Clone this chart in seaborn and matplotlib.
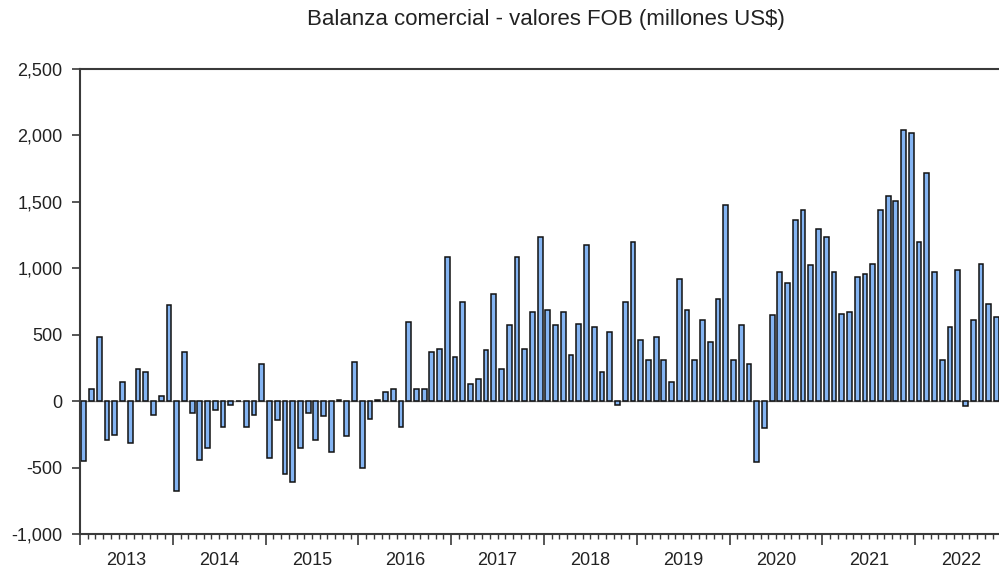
import numpy as np
import pandas as pd
import matplotlib
matplotlib.use("Agg")
import matplotlib.pyplot as plt
import matplotlib.transforms as mtransforms
from matplotlib.ticker import FuncFormatter, FixedLocator
import seaborn as sns

# -------------------------------
# Data: monthly trade balance (millions US$), Jan 2013 - Nov 2022
# -------------------------------
years = ["2013", "2014", "2015", "2016", "2017", "2018", "2019", "2020", "2021", "2022"]

v2013 = [-454, 90, 482, -291, -253, 143, -316, 243, 218, -103, 40, 720]
v2014 = [-680, 369, -90, -442, -354, -65, -191, -28, 0, -198, -108, 281]
v2015 = [-429, -141, -547, -612, -354, -90, -296, -115, -384, 10, -259, 291]
v2016 = [-505, -133, 10, 68, 90, -191, 592, 90, 90, 369, 394, 1084]
v2017 = [331, 745, 128, 166, 382, 808, 241, 570, 1084, 394, 670, 1235]
v2018 = [683, 570, 670, 344, 582, 1172, 557, 218, 520, -28, 745, 1197]
v2019 = [457, 306, 482, 306, 143, 921, 683, 306, 607, 444, 771, 1473]
v2020 = [306, 570, 281, -459, -203, 645, 971, 889, 1360, 1436, 1022, 1298]
v2021 = [1235, 971, 658, 670, 934, 959, 1034, 1436, 1541, 1503, 2043, 2018]
v2022 = [1197, 1717, 971, 311, 557, 984, -40, 607, 1034, 733, 633]

values = v2013 + v2014 + v2015 + v2016 + v2017 + v2018 + v2019 + v2020 + v2021 + v2022
df = pd.DataFrame({"mes": np.arange(len(values)), "valor": values})

# -------------------------------
# Plot
# -------------------------------
sns.set_style("white")
plt.rcParams["font.family"] = ["Liberation Sans", "DejaVu Sans"]

fig = plt.figure(figsize=(9.99, 5.76), dpi=100)
ax = fig.add_axes([80 / 999, 42 / 576, 928 / 999, 465 / 576])

ax.axhline(0, color="#8a8a8a", lw=1, zorder=0)
sns.barplot(data=df, x="mes", y="valor", native_scale=True, width=0.62,
            color="#84b4f2", saturation=1, edgecolor="#111111", linewidth=1.1,
            errorbar=None, ax=ax, zorder=2)

n_months = 12 * len(years)
ax.set_xlim(-0.5, n_months - 0.5)
ax.set_ylim(-1000, 2500)
ax.set_yticks(np.arange(-1000, 2501, 500))
ax.yaxis.set_major_formatter(FuncFormatter(lambda v, p: f"{int(v):,}"))

ax.xaxis.set_major_locator(FixedLocator(np.arange(-0.5, n_months, 12)))
ax.xaxis.set_minor_locator(FixedLocator(np.arange(-0.5, n_months, 1)))
ax.set_xticklabels([])
ax.set_xlabel("")
ax.set_ylabel("")

spine_col = "#3a3a3a"
for s in ax.spines.values():
    s.set_color(spine_col)
    s.set_linewidth(1.5)

ax.tick_params(axis="y", direction="out", length=6, width=1.2, color=spine_col,
               labelsize=13, pad=6.5, labelcolor="#222222", left=True)
ax.tick_params(axis="x", which="major", direction="out", length=8, width=1.2,
               color=spine_col, bottom=True)
ax.tick_params(axis="x", which="minor", direction="out", length=3.5, width=1,
               color=spine_col, bottom=True)

# year labels centred in each year
trans = mtransforms.blended_transform_factory(ax.transData, ax.transAxes)
for k, yr in enumerate(years):
    ax.text(12 * k + 5.5, -0.057, yr, transform=trans, ha="center", va="center",
            fontsize=13, color="#222222")

fig.text(546 / 999, 1 - 19 / 576, "Balanza comercial - valores FOB (millones US$)",
         ha="center", va="center", fontsize=16, color="#222222")

fig.savefig("out.png", dpi=100)
